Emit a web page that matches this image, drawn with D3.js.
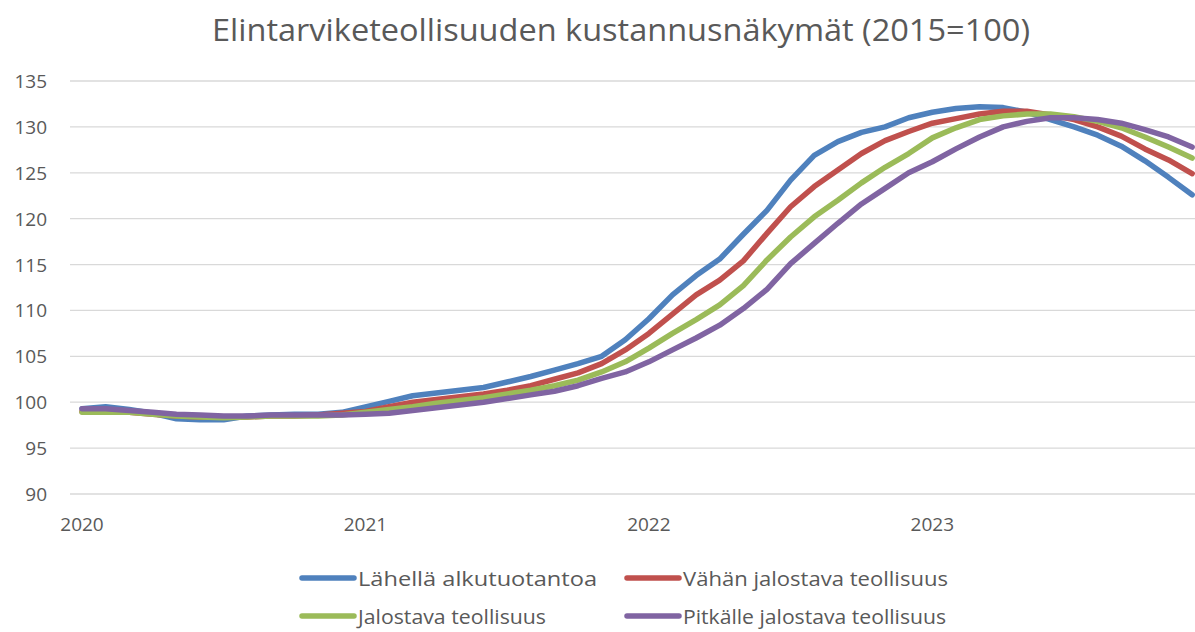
<!DOCTYPE html>
<html>
<head>
<meta charset="utf-8">
<script src="https://cdn.jsdelivr.net/npm/d3@7"></script>
<style>
  body { margin: 0; background: #fff; }
  text { font-family: "Open Sans", "DejaVu Sans", sans-serif; fill: #595959; }
</style>
</head>
<body>
<div id="chart"></div>
<script>
let W = 1195;
let H = 632;

// Monthly values Jan 2020 - Dec 2023 (index 2015=100)
let lahella = [
  99.3, 99.5, 99.2, 98.8, 98.2, 98.1, 98.1, 98.5, 98.6, 98.7, 98.7, 98.9,
  99.5, 100.1, 100.7, 101.0, 101.3, 101.6, 102.2, 102.8, 103.5, 104.2, 105.0, 106.8,
  109.1, 111.7, 113.8, 115.6, 118.3, 120.9, 124.2, 126.9, 128.4, 129.4, 130.0, 131.0,
  131.6, 132.0, 132.2, 132.1, 131.6, 130.8, 130.0, 129.1, 127.9, 126.3, 124.5, 122.6
];
let vahan = [
  99.0, 99.0, 98.9, 98.7, 98.5, 98.4, 98.4, 98.4, 98.5, 98.5, 98.6, 98.8,
  99.0, 99.5, 100.0, 100.3, 100.6, 100.9, 101.3, 101.8, 102.5, 103.2, 104.2, 105.7,
  107.5, 109.6, 111.7, 113.3, 115.4, 118.4, 121.3, 123.5, 125.3, 127.1, 128.5, 129.5,
  130.4, 130.9, 131.4, 131.7, 131.7, 131.3, 130.8, 130.0, 129.0, 127.6, 126.4, 124.9
];
let jalostava = [
  98.9, 98.9, 98.9, 98.7, 98.5, 98.4, 98.3, 98.4, 98.5, 98.5, 98.5, 98.6,
  98.9, 99.2, 99.5, 99.9, 100.2, 100.5, 100.9, 101.3, 101.8, 102.4, 103.3, 104.4,
  105.9, 107.5, 109.0, 110.6, 112.7, 115.5, 118.0, 120.2, 122.0, 123.9, 125.6, 127.1,
  128.8, 129.9, 130.8, 131.2, 131.4, 131.4, 131.1, 130.6, 129.9, 128.9, 127.8, 126.6
];
let pitkalle = [
  99.3, 99.3, 99.1, 98.9, 98.7, 98.6, 98.5, 98.5, 98.6, 98.6, 98.6, 98.6,
  98.7, 98.8, 99.1, 99.4, 99.7, 100.0, 100.4, 100.8, 101.2, 101.8, 102.6, 103.3,
  104.4, 105.7, 107.0, 108.4, 110.2, 112.3, 115.1, 117.3, 119.5, 121.6, 123.3, 125.0,
  126.2, 127.6, 128.9, 130.0, 130.6, 131.0, 131.0, 130.8, 130.4, 129.7, 128.9, 127.8
];

let seriesNames = ['Lähellä alkutuotantoa', 'Vähän jalostava teollisuus', 'Jalostava teollisuus', 'Pitkälle jalostava teollisuus'];
let seriesColors = ['#4F81BD', '#C0504D', '#9BBB59', '#8064A2'];
let seriesValues = [lahella, vahan, jalostava, pitkalle];

let yearLabels = ['2020', '2021', '2022', '2023'];
let yTicks = [90, 95, 100, 105, 110, 115, 120, 125, 130, 135];

let svg = d3.select('#chart').append('svg').attr('width', W).attr('height', H);

// Scales
let xScale = d3.scaleLinear().domain([0, 47]).range([82, 82 + 47 * 23.62]);
let yScale = d3.scaleLinear().domain([90, 135]).range([494, 81]);

// Title
svg.append('text')
  .attr('x', 621).attr('y', 29)
  .attr('text-anchor', 'middle').attr('dominant-baseline', 'central')
  .attr('font-size', 31)
  .attr('textLength', 818).attr('lengthAdjust', 'spacingAndGlyphs')
  .text('Elintarviketeollisuuden kustannusnäkymät (2015=100)');

// Gridlines
svg.selectAll('line.grid').data(yTicks).enter().append('line')
  .attr('class', 'grid')
  .attr('x1', 70).attr('x2', W)
  .attr('y1', d => yScale(d)).attr('y2', d => yScale(d))
  .attr('stroke', '#D9D9D9').attr('stroke-width', 1.3);

// Y labels
svg.selectAll('text.ylab').data(yTicks).enter().append('text')
  .attr('class', 'ylab')
  .attr('x', 47).attr('y', d => yScale(d))
  .attr('text-anchor', 'end').attr('dominant-baseline', 'central')
  .attr('font-size', 19)
  .text(d => d);

// X labels, one per year
svg.selectAll('text.xlab').data(yearLabels).enter().append('text')
  .attr('class', 'xlab')
  .attr('x', (d, i) => xScale(i * 12)).attr('y', 524)
  .attr('text-anchor', 'middle').attr('dominant-baseline', 'central')
  .attr('font-size', 19)
  .text(d => d);

// Lines
let line = d3.line()
  .x((d, i) => xScale(i))
  .y(d => yScale(d));

svg.selectAll('path.series').data(seriesValues).enter().append('path')
  .attr('class', 'series')
  .attr('d', d => line(d))
  .attr('fill', 'none')
  .attr('stroke', (d, i) => seriesColors[i])
  .attr('stroke-width', 5.5)
  .attr('stroke-linejoin', 'round')
  .attr('stroke-linecap', 'round');

// Legend (second row nudged up so it stays inside the window)
let legendX = [300, 625];
let legendY = [578, 616];
let legendW = [239, 265, 188, 263];
let legend = svg.selectAll('g.legend').data(seriesNames).enter().append('g')
  .attr('class', 'legend')
  .attr('transform', (d, i) => `translate(${legendX[i % 2]},${legendY[Math.floor(i / 2)]})`);

legend.append('line')
  .attr('x1', 2).attr('x2', 54).attr('y1', 0).attr('y2', 0)
  .attr('stroke', (d, i) => seriesColors[i])
  .attr('stroke-width', 5.5)
  .attr('stroke-linecap', 'round');

legend.append('text')
  .attr('x', 58).attr('y', 0)
  .attr('dominant-baseline', 'central')
  .attr('font-size', 20)
  .attr('textLength', (d, i) => legendW[i]).attr('lengthAdjust', 'spacingAndGlyphs')
  .text(d => d);
</script>
</body>
</html>
